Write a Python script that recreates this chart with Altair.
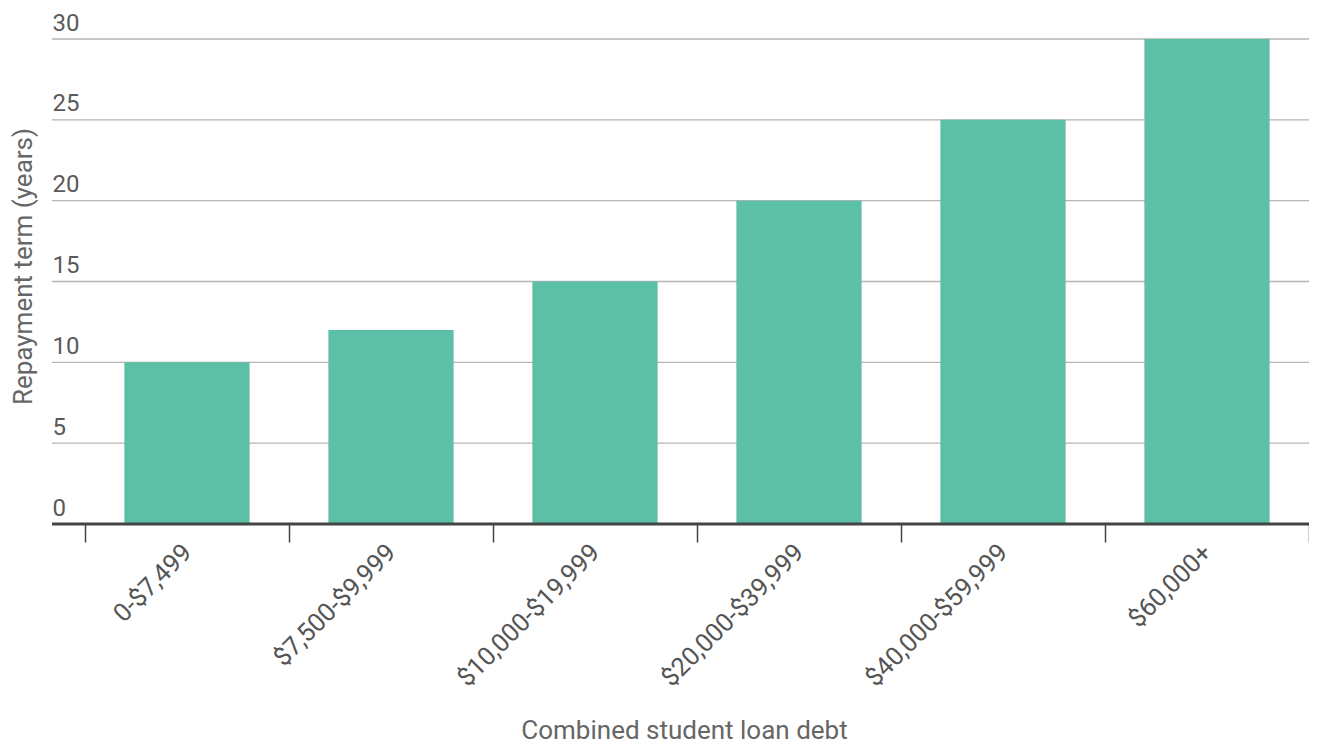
import altair as alt
import pandas as pd

categories = ["0-$7,499", "$7,500-$9,999", "$10,000-$19,999", "$20,000-$39,999", "$40,000-$59,999", "$60,000+"]
years = [10, 12, 15, 20, 25, 30]
grid_values = [5, 10, 15, 20, 25, 30]
y_ticks = [0, 5, 10, 15, 20, 25, 30]

df = pd.DataFrame({"debt": categories, "years": years})
grid_df = pd.DataFrame({"v": grid_values})
base_df = pd.DataFrame({"v": [0]})

W = 1224
H = 485
FONT = "Roboto"

yscale = alt.Scale(domain=[0, 30], nice=False, zero=True)

yaxis = alt.Axis(
    title="Repayment term (years)",
    titleFont=FONT,
    titleFontSize=26,
    titleFontWeight="normal",
    titleColor="#666666",
    titleAngle=270,
    titleX=-62,
    titleY=227,
    titleBaseline="middle",
    titleAlign="center",
    values=y_ticks,
    labelFont=FONT,
    labelFontSize=24,
    labelColor="#5a5a5a",
    labelAlign="left",
    labelBaseline="alphabetic",
    labelPadding=33,
    labelOffset=-9,
    domain=False,
    ticks=False,
    tickSize=0,
    grid=False,
)

grid = alt.Chart(grid_df).mark_rule(color="#b5b5b5", strokeWidth=1.3).encode(
    y=alt.Y("v:Q", scale=yscale, axis=yaxis),
    x=alt.value(-33),
    x2=alt.value(W),
)

bars = alt.Chart(df).mark_bar(color="#5cc0a6", width=alt.RelativeBandSize(0.614)).encode(
    x=alt.X(
        "debt:N",
        sort=categories,
        scale=alt.Scale(paddingInner=0, paddingOuter=0),
        axis=alt.Axis(
            title="Combined student loan debt",
            titleFont=FONT,
            titleFontSize=26,
            titleFontWeight="normal",
            titleColor="#666666",
            titleX=599,
            titleY=214,
            titleBaseline="alphabetic",
            titleAlign="center",
            labelAngle=-45,
            labelAlign="right",
            labelBaseline="middle",
            labelFont=FONT,
            labelFontSize=25.5,
            labelColor="#555555",
            labelPadding=6,
            labelLimit=0,
            labelOverlap=False,
            domain=False,
            grid=False,
            ticks=True,
            tickSize=18,
            tickColor="#444444",
            tickWidth=1.5,
            tickBand="extent",
        ),
    ),
    y=alt.Y("years:Q", scale=yscale, axis=yaxis),
)

baseline = alt.Chart(base_df).mark_rule(color="#444444", strokeWidth=3).encode(
    y=alt.Y("v:Q", scale=yscale, axis=yaxis),
    x=alt.value(-33),
    x2=alt.value(W),
)

chart = (
    alt.layer(grid, bars, baseline)
    .properties(
        width=W,
        height=H,
        autosize=alt.AutoSizeParams(type="none"),
        padding={"left": 77, "top": 31, "right": 0, "bottom": 216},
    )
    .configure_view(stroke=None)
)

chart.save("out.html", embed_options={"renderer": "svg", "actions": False})
